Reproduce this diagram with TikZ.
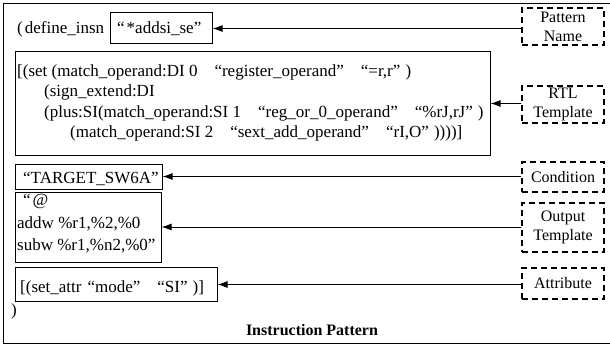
\documentclass[tikz,border=0pt]{standalone}
\usepackage{fontspec}
\setmainfont{Liberation Serif}
\usetikzlibrary{arrows.meta}
% gap between a closing and an opening quotation mark
\newcommand\qgap{\hspace{1em}}
% gap between a closing quotation mark and a parenthesis
\newcommand\pgap{\hspace{0.3em}}
\begin{document}
\begin{tikzpicture}[x=1pt,y=-1pt,
  font=\fontsize{17}{20}\selectfont,
  codebox/.style={draw, line width=1pt, inner sep=0pt, rectangle},
  notebox/.style={draw, line width=1.1pt, dash pattern=on 6pt off 4pt,
    inner sep=0pt, minimum width=82pt, align=center,
    font=\fontsize{16}{19}\selectfont},
  codetext/.style={inner sep=0pt, anchor=base west},
  pointer/.style={line width=1pt, -{Latex[length=10pt,width=7pt]}}]
\useasboundingbox (0,0) rectangle (610,345);

% outer frame (open on the right)
\draw[line width=1pt] (612,4) -- (3,4) -- (3,343) -- (612,343);

% pattern name
\node[codetext] (def) at (17,34) {(\hspace{2pt}define\_insn};
\node[codebox, minimum width=102pt, minimum height=31pt] (pname) at (161,28.5) {};
\node[codetext] (pnametxt) at (117,34) {“\hspace{2pt}*addsi\_se”};

% RTL template
\node[codebox, minimum width=475pt, minimum height=103pt] (rtl) at (252.5,103.5) {};
\node[codetext] (r1) at (17,76) {[(set (match\_operand:DI 0\qgap“register\_operand”\qgap“=r,r”\pgap)};
\node[codetext] (r2) at (44,96.5) {(sign\_extend:DI};
\node[codetext] (r3) at (44,117) {(plus:SI(match\_operand:SI 1\qgap“reg\_or\_0\_operand”\qgap“\%rJ,rJ”\pgap)};
\node[codetext] (r4) at (70,137) {(match\_operand:SI 2\qgap“sext\_add\_operand”\qgap“rI,O”\pgap))))]};

% condition
\node[codebox, minimum width=147pt, minimum height=25pt] (cond) at (88.5,176.5) {};
\node[codetext] (condtxt) at (23,183) {“TARGET\_SW6A”};

% output template
\node[codebox, minimum width=146pt, minimum height=70pt] (out) at (88,227) {};
\node[codetext] (o1) at (23,205) {“\hspace{2pt}@};
\node[codetext] (o2) at (17,228) {addw \%r1,\%2,\%0};
\node[codetext] (o3) at (17,250) {subw \%r1,\%n2,\%0”};

% attribute
\node[codebox, minimum width=202pt, minimum height=34pt] (attr) at (116,284.5) {};
\node[codetext] (attrtxt) at (20,292) {[(set\_attr\hspace{0.35em}“mode”\qgap“SI”\pgap)]};

\node[codetext] (close) at (11,315) {)};
\node[inner sep=0pt, anchor=base, font=\fontsize{16}{20}\selectfont\bfseries] (title) at (312,335) {Instruction Pattern};

% notes on the right
\node[notebox, minimum height=37pt] (npname) at (563,26.5) {Pattern\\Name};
\node[notebox, minimum height=37pt] (nrtl) at (563,104.5) {RTL\\Template};
\node[notebox, minimum height=30pt] (ncond) at (563,177) {Condition};
\node[notebox, minimum height=49pt] (nout) at (563,227.5) {Output\\Template};
\node[notebox, minimum height=31pt] (nattr) at (563,283.5) {Attribute};

% pointers from notes to the parts they describe
\draw[pointer] (npname.west |- pname.east) -- (pname.east);
\draw[pointer] (nrtl.west |- rtl.east) -- (rtl.east);
\draw[pointer] (ncond.west |- cond.east) -- (cond.east);
\draw[pointer] (nout.west |- out.east) -- (out.east);
\draw[pointer] (nattr.west |- attr.east) -- (attr.east);
\end{tikzpicture}
\end{document}
